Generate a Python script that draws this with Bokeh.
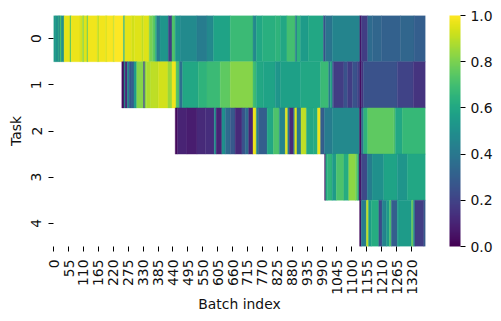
from math import pi
from bokeh.embed import file_html
from bokeh.resources import INLINE
from bokeh.plotting import figure
from bokeh.models import ColumnDataSource, LinearColorMapper, ColorBar, FixedTicker, PrintfTickFormatter
from bokeh.palettes import Viridis256

N_BATCHES = 1372
TASKS = ["0", "1", "2", "3", "4"]
X_TICKS = list(range(0, 1321, 55))
CBAR_TICKS = [0.0, 0.2, 0.4, 0.6, 0.8, 1.0]

row0_starts = [0, 9, 17, 20, 24, 28, 39, 61, 65, 98, 108, 112, 124, 127, 162, 168, 193, 197, 221, 225, 258, 263,
               289, 298, 326, 332, 353, 366, 375, 381, 393, 424, 437, 449, 467, 529, 566, 590, 652, 736, 748, 770,
               818, 837, 861, 892, 898, 911, 940, 996, 1003, 1028, 1130, 1135, 1159, 1177, 1210, 1280, 1330]
row0_values = [0.55, 0.5, 0.62, 0.45, 0.72, 0.5, 0.96, 0.72, 0.97, 0.93, 0.8, 0.95, 0.72, 0.98, 0.9, 0.98, 0.93, 0.99, 0.9, 1.0, 0.65, 0.96,
               0.93, 0.95, 0.9, 0.95, 0.8, 0.75, 0.62, 0.42, 0.52, 0.18, 0.72, 0.52, 0.48, 0.42, 0.47, 0.58, 0.68, 0.47, 0.6, 0.63,
               0.65, 0.6, 0.7, 0.42, 0.65, 0.55, 0.6, 0.25, 0.38, 0.45, 0.05, 0.18, 0.35, 0.33, 0.31, 0.33, 0.3]

row1_starts = [252, 260, 264, 273, 279, 286, 297, 307, 332, 337, 342, 359, 387, 422, 437, 452, 464, 476, 534, 566,
               615, 652, 736, 748, 774, 818, 837, 911, 985, 1015, 1021, 1028, 1033, 1071, 1085, 1103, 1120, 1130, 1135, 1143, 1268, 1327]
row1_values = [0.03, 0.55, 0.12, 0.5, 0.25, 0.3, 0.55, 0.82, 0.2, 0.82, 0.88, 0.9, 0.93, 0.85, 0.98, 0.72, 0.37, 0.6, 0.65, 0.68,
               0.75, 0.82, 0.68, 0.6, 0.58, 0.52, 0.57, 0.6, 0.68, 0.4, 0.6, 0.3, 0.18, 0.25, 0.18, 0.25, 0.2, 0.03, 0.15, 0.25, 0.2, 0.15]

row2_starts = [449, 457, 492, 529, 560, 593, 600, 621, 634, 652, 670, 695, 707, 720, 736, 748, 755, 788, 811, 833, 855, 864,
               870, 886, 890, 898, 913, 933, 959, 974, 985, 999, 1028, 1129, 1136, 1144, 1159, 1255, 1261, 1286]
row2_values = [0.02, 0.1, 0.08, 0.12, 0.13, 0.5, 0.1, 0.5, 0.35, 0.28, 0.12, 0.25, 0.35, 0.1, 0.97, 0.45, 0.3, 0.6, 0.72, 0.45, 0.95, 0.4,
               0.12, 0.45, 0.95, 0.4, 0.9, 0.6, 0.62, 0.97, 0.3, 0.42, 0.47, 0.03, 0.4, 0.65, 0.75, 0.72, 0.6, 0.67]

row3_starts = [1000, 1004, 1010, 1028, 1043, 1071, 1089, 1114, 1121, 1127, 1135, 1157, 1175, 1218, 1268, 1305]
row3_values = [0.03, 0.6, 0.65, 0.55, 0.72, 0.62, 0.83, 0.78, 0.65, 0.05, 0.22, 0.42, 0.5, 0.58, 0.52, 0.6]

row4_starts = [1129, 1135, 1154, 1162, 1172, 1200, 1212, 1228, 1239, 1246, 1268, 1274, 1321, 1327, 1333, 1366]
row4_values = [0.03, 0.42, 0.9, 0.55, 0.62, 0.22, 0.45, 0.55, 0.72, 0.3, 0.55, 0.55, 0.78, 0.45, 0.18, 0.28]

rows = [(row0_starts, row0_values), (row1_starts, row1_values), (row2_starts, row2_values),
        (row3_starts, row3_values), (row4_starts, row4_values)]

left, right, top, bottom, val = [], [], [], [], []
for i, (starts, values) in enumerate(rows):
    ends = starts[1:] + [N_BATCHES]
    for s, e, v in zip(starts, ends, values):
        left.append(s); right.append(e); top.append(i); bottom.append(i + 1); val.append(v)
source = ColumnDataSource(dict(left=left, right=right, top=top, bottom=bottom, val=val))

mapper = LinearColorMapper(palette=Viridis256, low=0, high=1)
FONT = "DejaVu Sans"
SIZE = "13.9px"
TEXT = "#111111"

p = figure(frame_width=372, frame_height=231, x_range=(0, N_BATCHES), y_range=(5, 0),
           output_backend="svg", toolbar_location=None,
           min_border_left=53, min_border_right=68, min_border_top=15, min_border_bottom=0,
           background_fill_color="white", border_fill_color="white")
p.outline_line_color = None
p.grid.visible = False
colors = {"field": "val", "transform": mapper}
p.quad(left="left", right="right", top="top", bottom="bottom", source=source,
       fill_color=colors, line_color=colors, line_width=0.4)

p.xaxis.ticker = FixedTicker(ticks=[t + 0.5 for t in X_TICKS])
p.xaxis.major_label_overrides = {t + 0.5: str(t) for t in X_TICKS}
p.xaxis.major_label_orientation = pi / 2
p.xaxis.axis_label = "Batch index"
p.yaxis.ticker = FixedTicker(ticks=[i + 0.5 for i in range(len(TASKS))])
p.yaxis.major_label_overrides = {i + 0.5: t for i, t in enumerate(TASKS)}
p.yaxis.major_label_orientation = "parallel"
p.yaxis.axis_label = "Task"
for ax in (p.xaxis[0], p.yaxis[0]):
    ax.axis_line_color = None
    ax.minor_tick_line_color = None
    ax.major_tick_line_color = "black"
    ax.major_tick_line_width = 1
    ax.major_tick_in = 0
    ax.major_tick_out = 5
    ax.major_label_text_font = FONT
    ax.major_label_text_font_size = SIZE
    ax.major_label_text_color = TEXT
    ax.axis_label_text_font = FONT
    ax.axis_label_text_font_size = SIZE
    ax.axis_label_text_font_style = "normal"
    ax.axis_label_text_color = TEXT
p.xaxis[0].major_label_standoff = 8
p.xaxis[0].axis_label_standoff = -2
p.yaxis[0].major_label_standoff = 7
p.yaxis[0].axis_label_standoff = 5

cb = ColorBar(color_mapper=mapper, ticker=FixedTicker(ticks=CBAR_TICKS),
              formatter=PrintfTickFormatter(format="%.1f"), width=11, height=231,
              padding=0, margin=0, location=(396, 0), bar_line_color=None, border_line_color=None,
              background_fill_color=None,
              major_tick_in=0, major_tick_out=5, major_tick_line_color="black", major_tick_line_width=1,
              minor_tick_line_color=None, major_label_text_font=FONT,
              major_label_text_font_size=SIZE, major_label_text_color=TEXT, label_standoff=5)
p.add_layout(cb)

open("out.html", "w").write(file_html(p, INLINE))
